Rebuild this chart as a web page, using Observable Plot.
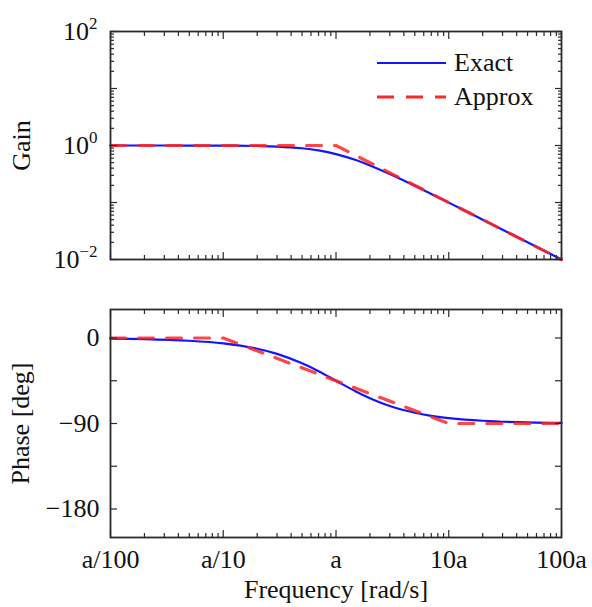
<!DOCTYPE html>
<html>
<head>
<meta charset="utf-8">
<script src="https://cdn.jsdelivr.net/npm/d3@7"></script>
<script src="https://cdn.jsdelivr.net/npm/@observablehq/plot@0.6"></script>
<style>
  body { margin: 0; background: #fff; }
  #chart { position: relative; width: 592px; height: 607px; font-family: "Liberation Serif", "Times New Roman", serif; color: #111; }
  #chart svg { display: block; }
  .legend { position: absolute; left: 376px; top: 46px; font-size: 26px; line-height: 34px; }
  .legend .row { display: flex; align-items: center; height: 34px; }
  .legend svg { margin-right: 6px; }
</style>
</head>
<body>
<div id="chart"></div>
<script>
// ---- data (frequency in units of a) ----
const freqExact = [0.01, 0.02, 0.05, 0.1, 0.2, 0.3, 0.5, 0.7, 1, 1.5, 2, 3, 5, 7, 10, 20, 50, 100];
const gainExact = [1.0, 1.0, 0.999, 0.995, 0.98, 0.958, 0.894, 0.819, 0.707, 0.555, 0.447, 0.316, 0.196, 0.141, 0.0995, 0.05, 0.02, 0.01];
const phaseExact = [-0.6, -1.1, -2.9, -5.7, -11.3, -16.7, -26.6, -35.0, -45.0, -56.3, -63.4, -71.6, -78.7, -81.9, -84.3, -87.1, -88.9, -89.4];

const freqApproxGain = [0.01, 1, 100];
const gainApprox = [1, 1, 0.01];

const freqApproxPhase = [0.01, 0.1, 10, 100];
const phaseApprox = [0, 0, -90, -90];

const freqTicks = [0.01, 0.1, 1, 10, 100];
const freqTickLabels = ["a/100", "a/10", "a", "10a", "100a"];
const gainTicks = [0.01, 1, 100];
const gainTickExponents = ["\u22122", "0", "2"];
const phaseTicks = [0, -90, -180];
const phaseMinorTicks = [-180, -135, -90, -45, 0];

const seriesNames = ["Exact", "Approx"];
const seriesColors = ["#1414ff", "#ff2626"];

// ---- derived tables ----
const exactGainData = freqExact.map((f, i) => ({f, v: gainExact[i]}));
const exactPhaseData = freqExact.map((f, i) => ({f, v: phaseExact[i]}));
const approxGainData = freqApproxGain.map((f, i) => ({f, v: gainApprox[i]}));
const approxPhaseData = freqApproxPhase.map((f, i) => ({f, v: phaseApprox[i]}));

const logMajor = [0.01, 0.1, 1, 10, 100];
const logMinor = [];
for (const d of [0.01, 0.1, 1, 10]) for (let k = 2; k <= 9; k++) logMinor.push(d * k);

const fontFamily = '"Liberation Serif", "Times New Roman", serif';
const W = 592, ML = 110, MR = 31;
const frameColor = "#2a2a2a";
const dash = "15,13";

// inward-pointing ticks: draw outward ticks shifted back inside the frame
function tickMarks(axis, anchor, ticks, size) {
  const common = {anchor, ticks, tickSize: size, fill: "none", label: null, stroke: frameColor, strokeWidth: 1.2};
  if (axis === "x") return Plot.axisX({...common, dy: anchor === "bottom" ? -size : size});
  return Plot.axisY({...common, dx: anchor === "left" ? size : -size});
}

const gainPlot = Plot.plot({
  width: W, height: 284,
  marginLeft: ML, marginRight: MR, marginTop: 31, marginBottom: 25,
  style: {fontFamily, fontSize: "26px", color: "#111", background: "transparent", overflow: "visible"},
  x: {type: "log", domain: [0.01, 100]},
  y: {type: "log", domain: [0.01, 100]},
  marks: [
    Plot.line(exactGainData, {x: "f", y: "v", stroke: seriesColors[0], strokeWidth: 2.2, curve: "catmull-rom"}),
    Plot.line(approxGainData, {x: "f", y: "v", stroke: seriesColors[1], strokeWidth: 3.2, strokeDasharray: dash, strokeOpacity: 0.85}),
    tickMarks("x", "bottom", logMinor, 4), tickMarks("x", "bottom", logMajor, 7),
    tickMarks("x", "top", logMinor, 4), tickMarks("x", "top", logMajor, 7),
    tickMarks("y", "left", logMinor, 4), tickMarks("y", "left", logMajor, 7),
    tickMarks("y", "right", logMinor, 4), tickMarks("y", "right", logMajor, 7),
    Plot.axisY({anchor: "left", ticks: gainTicks, tickSize: 0, tickPadding: 13,
      tickFormat: d => "10^" + gainTickExponents[gainTicks.indexOf(d)],
      label: "Gain", labelAnchor: "center", labelArrow: "none", labelOffset: 99}),
    Plot.frame({stroke: frameColor, strokeWidth: 1.8})
  ]
});

const phasePlot = Plot.plot({
  width: W, height: 323,
  marginLeft: ML, marginRight: MR, marginTop: 25, marginBottom: 70,
  style: {fontFamily, fontSize: "26px", color: "#111", background: "transparent", overflow: "visible"},
  x: {type: "log", domain: [0.01, 100]},
  y: {domain: [-210, 30]},
  marks: [
    Plot.line(exactPhaseData, {x: "f", y: "v", stroke: seriesColors[0], strokeWidth: 2.2, curve: "catmull-rom"}),
    Plot.line(approxPhaseData, {x: "f", y: "v", stroke: seriesColors[1], strokeWidth: 3.2, strokeDasharray: dash, strokeOpacity: 0.85}),
    tickMarks("x", "bottom", logMinor, 4), tickMarks("x", "bottom", logMajor, 7),
    tickMarks("x", "top", logMinor, 4), tickMarks("x", "top", logMajor, 7),
    tickMarks("y", "left", phaseMinorTicks, 7), tickMarks("y", "right", phaseMinorTicks, 7),
    Plot.axisY({anchor: "left", ticks: phaseTicks, tickSize: 0, tickPadding: 11,
      tickFormat: d => d === 0 ? "0" : "\u2212" + Math.abs(d),
      label: "Phase [deg]", labelAnchor: "center", labelArrow: "none", labelOffset: 100}),
    Plot.axisX({anchor: "bottom", ticks: freqTicks, tickSize: 0, tickPadding: 12,
      tickFormat: d => freqTickLabels[freqTicks.indexOf(d)],
      label: "Frequency [rad/s]", labelAnchor: "center", labelArrow: "none", labelOffset: 60}),
    Plot.frame({stroke: frameColor, strokeWidth: 1.8})
  ]
});

// superscript exponents on gain tick labels
gainPlot.querySelectorAll('g[aria-label="y-axis tick label"] text').forEach(t => {
  const s = t.textContent;
  const i = s.indexOf("^");
  if (i < 0) return;
  const base = s.slice(0, i), exp = s.slice(i + 1);
  t.textContent = "";
  const ns = "http://www.w3.org/2000/svg";
  const b = document.createElementNS(ns, "tspan");
  b.textContent = base;
  const e = document.createElementNS(ns, "tspan");
  e.textContent = exp;
  e.setAttribute("font-size", "17");
  e.setAttribute("dy", "-11");
  t.appendChild(b); t.appendChild(e);
});

const chart = document.getElementById("chart");
chart.appendChild(gainPlot);
chart.appendChild(phasePlot);

// legend
const legend = document.createElement("div");
legend.className = "legend";
seriesNames.forEach((name, i) => {
  const row = document.createElement("div");
  row.className = "row";
  const sw = document.createElementNS("http://www.w3.org/2000/svg", "svg");
  sw.setAttribute("width", "72"); sw.setAttribute("height", "10");
  const ln = document.createElementNS("http://www.w3.org/2000/svg", "line");
  ln.setAttribute("x1", "1"); ln.setAttribute("x2", "70"); ln.setAttribute("y1", "5"); ln.setAttribute("y2", "5");
  ln.setAttribute("stroke", seriesColors[i]);
  ln.setAttribute("stroke-width", i === 0 ? "2.2" : "3.2");
  if (i === 1) ln.setAttribute("stroke-dasharray", "17,12");
  sw.appendChild(ln);
  const tx = document.createElement("span");
  tx.textContent = name;
  row.appendChild(sw); row.appendChild(tx);
  legend.appendChild(row);
});
chart.appendChild(legend);
</script>
</body>
</html>
